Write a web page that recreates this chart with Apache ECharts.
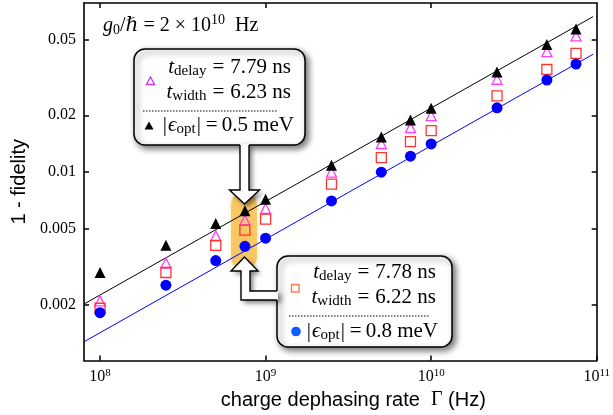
<!DOCTYPE html>
<html>
<head>
<meta charset="utf-8">
<script src="https://cdn.jsdelivr.net/npm/echarts@6/dist/echarts.min.js"></script>
<style>
html,body{margin:0;padding:0;background:#fff;}
#chart{width:613px;height:415px;}
</style>
</head>
<body>
<div id="chart"></div>
<script>
// ---- data ----
var gammaHz = [1e8, 2.5e8, 5e8, 7.5e8, 1e9, 2.5e9, 5e9, 7.5e9, 1e10, 2.5e10, 5e10, 7.5e10];
var eps05 = [0.00295, 0.00411, 0.00536, 0.00625, 0.0072, 0.0109, 0.01535, 0.0189, 0.0218, 0.0339, 0.0473, 0.0571];
var pulseA = [0.00209, 0.00331, 0.00461, 0.0056, 0.00643, 0.0100, 0.01418, 0.0172, 0.0199, 0.031, 0.0434, 0.0525];
var pulseB = [0.00191, 0.00295, 0.0041, 0.00494, 0.00565, 0.00864, 0.01195, 0.01452, 0.0166, 0.0253, 0.0349, 0.0425];
var eps08 = [0.00181, 0.00253, 0.00341, 0.00406, 0.00448, 0.00705, 0.0100, 0.01215, 0.0141, 0.0219, 0.0307, 0.0373];
var fitX = [8e7, 9.5e10];
var fitBlack = [0.00201, 0.0664];
var fitBlue = [0.00127, 0.042];
var xTicks = [1e8, 1e9, 1e10, 1e11];
var yTicks = [0.002, 0.005, 0.01, 0.02, 0.05];

function pairs(xs, ys) { return xs.map(function (x, i) { return [x, ys[i]]; }); }

var SERIF = "'Liberation Serif', 'DejaVu Serif', serif";
var SANS = "'Liberation Sans', Arial, sans-serif";

var chart = echarts.init(document.getElementById('chart'), null, {renderer: 'canvas'});

var axisLine = {show: true, lineStyle: {color: '#000', width: 1.6}};
var tickLine = {color: '#000', width: 1.5};

function makeRich(fs, ss, eqPad) {
  return {
    i: {fontFamily: SERIF, fontStyle: 'italic', fontSize: fs, color: '#000'},
    n: {fontFamily: SERIF, fontSize: fs, color: '#000'},
    eq: {fontFamily: SERIF, fontSize: fs, color: '#000', padding: [0, eqPad, 0, eqPad]},
    eq2: {fontFamily: SERIF, fontSize: fs, color: '#000', padding: [0, 4, 0, 4]},
    bar: {fontFamily: SERIF, fontSize: fs, color: '#000', padding: [0, 1, 0, 1]},
    sub: {fontFamily: SERIF, fontSize: ss, color: '#000', padding: [8, 0, 0, 0]},
    sup: {fontFamily: SERIF, fontSize: ss, color: '#000', padding: [0, 0, 11, 0]}
  };
}
var boxRich = makeRich(21, 15, 6);
var titleRich = makeRich(20, 14, 0);

function mtext(x, y, txt) {
  return {
    type: 'text', x: x, y: y, z: 20,
    style: {text: txt, align: 'right', verticalAlign: 'middle', rich: boxRich, fontFamily: SERIF, fontSize: 21}
  };
}

var boxStyle = {fill: '#fff', stroke: '#000', lineWidth: 1.5, shadowBlur: 6, shadowOffsetX: 3, shadowOffsetY: 3, shadowColor: 'rgba(0,0,0,0.55)'};
var arrowFill = {fill: '#fff', shadowBlur: 5, shadowOffsetX: 3, shadowOffsetY: 3, shadowColor: 'rgba(0,0,0,0.5)'};
var arrowLine = {stroke: '#000', lineWidth: 1.4, fill: null};

var graphics = [
  // highlight capsule
  {type: 'rect', z: 0, shape: {x: 231, y: 192, width: 26, height: 78, r: 13},
   style: {fill: 'rgba(247,190,72,0.75)', shadowBlur: 4, shadowColor: 'rgba(247,190,72,0.6)'}},
  // upper box
  {type: 'rect', z: 10, shape: {x: 134, y: 49, width: 171, height: 96, r: 11}, style: boxStyle},
  {type: 'polygon', z: 11, shape: {points: [[240,144],[249,144],[249,190],[259.5,190],[244.5,204],[229.5,190],[240,190]]}, style: arrowFill},
  {type: 'polyline', z: 12, shape: {points: [[240,145],[240,190],[229.5,190],[244.5,204],[259.5,190],[249,190],[249,145]]}, style: arrowLine},
  // lower box
  {type: 'rect', z: 10, shape: {x: 277, y: 256, width: 175, height: 91, r: 11}, style: boxStyle},
  {type: 'polygon', z: 11, shape: {points: [[244.5,257],[258,271],[250,271],[250,291],[278,291],[278,300],[241,300],[241,271],[231,271]]}, style: arrowFill},
  {type: 'polyline', z: 12, shape: {points: [[277,291],[250,291],[250,271],[258,271],[244.5,257],[231,271],[241,271],[241,300],[277,300]]}, style: arrowLine},
  // upper box contents
  {type: 'polygon', z: 20, shape: {points: [[150.5,77],[154.5,84.5],[146.5,84.5]]}, style: {fill: null, stroke: '#cc33ee', lineWidth: 1.3}},
  mtext(291, 67, '{i|t}{sub|delay}{eq|=}{n|7.79 ns}'),
  mtext(291, 92, '{i|t}{sub|width}{eq|=}{n|6.23 ns}'),
  {type: 'line', z: 20, shape: {x1: 143, y1: 111, x2: 277, y2: 111}, style: {stroke: '#000', lineWidth: 1, lineDash: [1.5, 1.5]}},
  {type: 'polygon', z: 20, shape: {points: [[149,121.5],[153.5,129.5],[144.5,129.5]]}, style: {fill: '#000'}},
  mtext(294, 125, '{bar||}{i|ϵ}{sub|opt}{bar||}{eq2|=}{n|0.5 meV}'),
  // lower box contents
  {type: 'rect', z: 20, shape: {x: 291.5, y: 284.5, width: 7.5, height: 7.5}, style: {fill: null, stroke: '#ff7f50', lineWidth: 1.5}},
  mtext(436, 272, '{i|t}{sub|delay}{eq|=}{n|7.78 ns}'),
  mtext(436, 297, '{i|t}{sub|width}{eq|=}{n|6.22 ns}'),
  {type: 'line', z: 20, shape: {x1: 289, y1: 316, x2: 430, y2: 316}, style: {stroke: '#000', lineWidth: 1, lineDash: [1.5, 1.5]}},
  {type: 'circle', z: 20, shape: {cx: 296, cy: 331.5, r: 4.8}, style: {fill: '#0a5cff'}},
  mtext(438, 331, '{bar||}{i|ϵ}{sub|opt}{bar||}{eq2|=}{n|0.8 meV}'),
  // title
  {type: 'text', x: 103, y: 26, z: 20,
   style: {text: '{i|g}{sub|0}{n|/ℏ = 2 × 10}{sup|10}{n|  Hz}', align: 'left', verticalAlign: 'middle', rich: titleRich, fontFamily: SERIF, fontSize: 20}}
];

var option = {
  animation: false,
  backgroundColor: '#fff',
  grid: {left: 84, right: 13, top: 3, bottom: 53, containLabel: false},
  xAxis: [
    {
      type: 'log', logBase: 10, min: 8e7, max: 1e11, position: 'bottom',
      axisLine: axisLine,
      axisTick: {show: true, inside: true, length: 5, customValues: xTicks, lineStyle: tickLine},
      minorTick: {show: false},
      splitLine: {show: false},
      axisLabel: {
        show: true, margin: 7, customValues: xTicks,
        formatter: function (v) { return '{b|10}{s|' + Math.round(Math.log10(v)) + '}'; },
        rich: {
          b: {fontFamily: SERIF, fontSize: 16, color: '#000'},
          s: {fontFamily: SERIF, fontSize: 11, color: '#000', padding: [0, 0, 8, 0]}
        }
      },
      name: 'charge dephasing rate  {g|Γ} (Hz)',
      nameLocation: 'middle', nameGap: 20,
      nameTextStyle: {
        fontFamily: SANS, fontSize: 20, color: '#000', padding: [0, 0, 0, 26],
        rich: {g: {fontFamily: SERIF, fontSize: 20, color: '#000'}}
      }
    },
    {
      type: 'log', logBase: 10, min: 8e7, max: 1e11, position: 'top',
      axisLine: axisLine,
      axisTick: {show: true, inside: true, length: 5, customValues: [1e8, 1e9, 1e10], lineStyle: tickLine},
      axisLabel: {show: false}, splitLine: {show: false}
    }
  ],
  yAxis: [
    {
      type: 'log', logBase: 10, min: 0.00101, max: 0.0784, position: 'left',
      axisLine: axisLine,
      axisTick: {show: true, inside: true, length: 5, customValues: yTicks, lineStyle: tickLine},
      minorTick: {show: false},
      splitLine: {show: false},
      axisLabel: {
        show: true, margin: 8, customValues: yTicks,
        fontFamily: SERIF, fontSize: 16, color: '#000',
        formatter: function (v) { return v < 0.0099 ? v.toFixed(3) : v.toFixed(2); }
      },
      name: '1 - fidelity', nameLocation: 'middle', nameGap: 47,
      nameTextStyle: {fontFamily: SANS, fontSize: 20, color: '#000'}
    },
    {
      type: 'log', logBase: 10, min: 0.00101, max: 0.0784, position: 'right',
      axisLine: axisLine,
      axisTick: {show: true, inside: true, length: 5, customValues: yTicks, lineStyle: tickLine},
      axisLabel: {show: false}, splitLine: {show: false}
    }
  ],
  series: [
    {type: 'line', data: pairs(fitX, fitBlack), showSymbol: false, symbol: 'none', lineStyle: {color: '#000', width: 1}, z: 3, silent: true},
    {type: 'line', data: pairs(fitX, fitBlue), showSymbol: false, symbol: 'none', lineStyle: {color: '#0000ff', width: 1}, z: 3, silent: true},
    {type: 'scatter', data: pairs(gammaHz, pulseA), symbol: 'triangle', symbolSize: 10,
     itemStyle: {color: 'rgba(0,0,0,0)', borderColor: '#ff3cff', borderWidth: 1.3, opacity: 1}, z: 4},
    {type: 'scatter', data: pairs(gammaHz, pulseB), symbol: 'rect', symbolSize: 10,
     itemStyle: {color: 'rgba(0,0,0,0)', borderColor: '#ff3333', borderWidth: 1.3, opacity: 1}, z: 5},
    {type: 'scatter', data: pairs(gammaHz, eps08), symbol: 'circle', symbolSize: 11,
     itemStyle: {color: '#0000ff', opacity: 1}, z: 6},
    {type: 'scatter', data: pairs(gammaHz, eps05), symbol: 'triangle', symbolSize: 11,
     itemStyle: {color: '#000', opacity: 1}, z: 7}
  ],
  graphic: {elements: graphics}
};
chart.setOption(option);
</script>
</body>
</html>
